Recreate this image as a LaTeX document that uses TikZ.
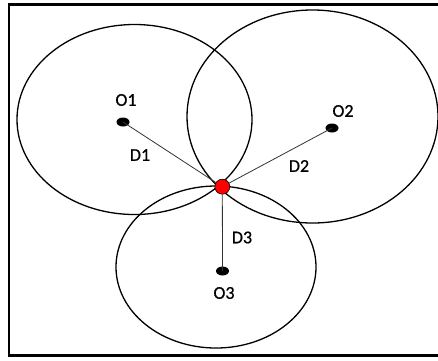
\documentclass[tikz,border=0pt]{standalone}
\usepackage{fontspec}
\setmainfont{Carlito}
\newfontfamily\lblfont{Carlito}[FakeBold=0.7]
\usetikzlibrary{shapes.geometric}
\begin{document}
\begin{tikzpicture}[x=1pt,y=-1pt,
  ring/.style={draw=black,line width=1.3pt},
  spoke/.style={draw=black!80,line width=0.8pt},
  dot/.style={ellipse,fill=black,minimum width=13pt,minimum height=9pt,inner sep=0pt},
  lbl/.style={font=\lblfont\fontsize{18}{18}\selectfont,inner sep=0pt}]
\useasboundingbox (0,0) rectangle (438,360);
\draw[line width=2.5pt] (9,4.5) rectangle (445,355.5);
\draw[ring] (134.5,119.5) ellipse [x radius=117.5, y radius=95];
\draw[ring] (312.5,116.5) ellipse [x radius=125.5, y radius=106.5];
\draw[ring] (216,267) ellipse [x radius=100, y radius=81];
\node[dot] (o1) at (123,122) {};
\node[dot] (o2) at (332,128) {};
\node[dot] (o3) at (222.5,271) {};
\node[circle,fill=red,draw=black,line width=0.6pt,minimum size=15pt,inner sep=0pt] (p) at (222.3,186.7) {};
\draw[spoke] (o1.center) -- (p);
\draw[spoke] (o2.center) -- (p);
\draw[spoke] (o3.center) -- (p);
\node[lbl] (l1) at (126,100) {O1};
\node[lbl] (l2) at (343,111) {O2};
\node[lbl] (l3) at (224,293) {O3};
\node[lbl] (d1) at (140,155) {D1};
\node[lbl] (d2) at (299,166) {D2};
\node[lbl] (d3) at (242,237.5) {D3};
\end{tikzpicture}
\end{document}
